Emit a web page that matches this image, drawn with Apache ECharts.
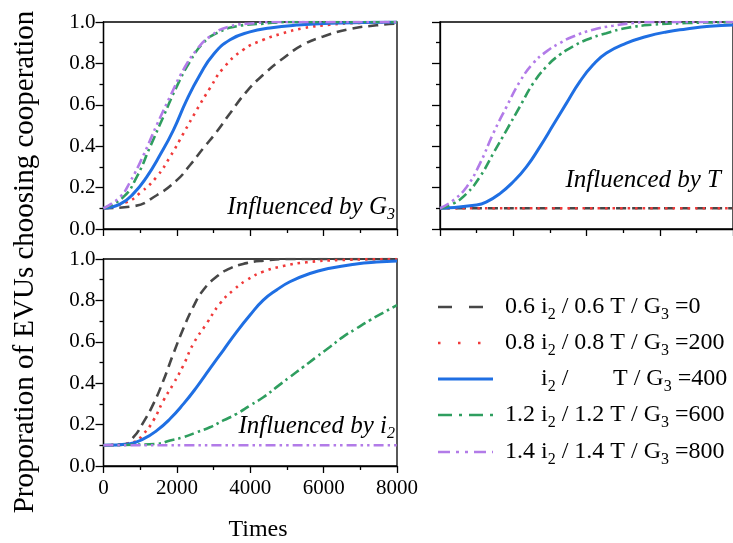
<!DOCTYPE html>
<html>
<head>
<meta charset="utf-8">
<script src="https://cdn.jsdelivr.net/npm/echarts@6/dist/echarts.min.js"></script>
<style>
  html, body { margin: 0; padding: 0; background: #fff; }
  #chart { width: 733px; height: 543px; }
</style>
</head>
<body>
<div id="chart"></div>
<script>
// Evolution of the share of EVUs choosing cooperation over time, [time, proportion]

// Panel 1: influenced by G3
const g3_0   = [[0,0.1],[816,0.11],[1450,0.163],[2000,0.236],[2360,0.309],[2720,0.39],[3085,0.47],[3450,0.559],[3900,0.664],[4355,0.745],[4900,0.825],[5440,0.89],[5990,0.93],[6710,0.966],[7440,0.984],[8000,0.992]];
const g3_200 = [[0,0.1],[635,0.13],[998,0.174],[1450,0.252],[1815,0.349],[2180,0.462],[2540,0.575],[2900,0.68],[3265,0.777],[3810,0.866],[4355,0.914],[4900,0.946],[5440,0.97],[6170,0.987],[6890,0.995],[8000,1.0]];
const g3_400 = [[0,0.1],[450,0.12],[816,0.171],[1180,0.252],[1540,0.357],[1905,0.478],[2270,0.624],[2630,0.745],[2990,0.842],[3450,0.914],[3990,0.952],[4535,0.971],[5260,0.985],[6170,0.994],[8000,1.0]];
const g3_600 = [[0,0.1],[544,0.155],[907,0.252],[1270,0.397],[1633,0.543],[1995,0.688],[2360,0.81],[2720,0.899],[3085,0.946],[3630,0.979],[4355,0.992],[5100,1.0],[8000,1.0]];
const g3_800 = [[0,0.1],[450,0.155],[725,0.228],[1090,0.357],[1450,0.502],[1815,0.64],[2180,0.77],[2540,0.866],[2900,0.93],[3450,0.979],[4175,0.995],[4700,1.0],[8000,1.0]];

// Panel 2: influenced by T
const t_06 = [[0,0.1],[8000,0.1]];
const t_08 = [[0,0.1],[8000,0.1]];
const t_10 = [[0,0.1],[1000,0.116],[1270,0.131],[1636,0.171],[2000,0.228],[2360,0.3],[2727,0.397],[3090,0.502],[3450,0.607],[3818,0.712],[4180,0.793],[4545,0.85],[5090,0.898],[5636,0.93],[6180,0.952],[6727,0.966],[7360,0.979],[8000,0.985]];
const t_12 = [[0,0.1],[363,0.123],[727,0.171],[1090,0.252],[1454,0.365],[1818,0.478],[2180,0.591],[2545,0.704],[2909,0.785],[3270,0.842],[3636,0.882],[4000,0.914],[4545,0.946],[5090,0.971],[5818,0.987],[6727,0.995],[8000,1.0]];
const t_14 = [[0,0.1],[363,0.139],[727,0.203],[1090,0.316],[1454,0.462],[1818,0.591],[2180,0.712],[2545,0.801],[2909,0.858],[3270,0.898],[3636,0.93],[4180,0.963],[4727,0.982],[5270,0.995],[5800,1.0],[8000,1.0]];

// Panel 3: influenced by i2
const i2_06 = [[0,0.1],[544,0.103],[816,0.139],[1090,0.212],[1360,0.3],[1633,0.413],[1905,0.543],[2177,0.664],[2450,0.77],[2720,0.85],[3085,0.915],[3450,0.955],[3900,0.98],[4355,0.992],[5100,1.0],[8000,1.0]];
const i2_08 = [[0,0.1],[816,0.115],[1090,0.155],[1360,0.22],[1633,0.316],[1905,0.397],[2177,0.486],[2450,0.591],[2810,0.688],[3175,0.785],[3540,0.85],[3900,0.898],[4355,0.939],[4900,0.966],[5530,0.984],[6440,0.995],[8000,1.0]];
const i2_10 = [[0,0.1],[725,0.108],[1090,0.131],[1450,0.171],[1815,0.228],[2180,0.3],[2540,0.381],[2900,0.47],[3265,0.559],[3630,0.648],[3990,0.728],[4355,0.801],[4717,0.85],[5080,0.89],[5625,0.93],[6170,0.955],[6890,0.976],[7440,0.985],[8000,0.99]];
const i2_12 = [[0,0.1],[1450,0.107],[1815,0.123],[2180,0.139],[2540,0.163],[2900,0.187],[3265,0.22],[3630,0.252],[3990,0.292],[4355,0.332],[4717,0.381],[5080,0.43],[5442,0.478],[5805,0.527],[6170,0.575],[6530,0.624],[6890,0.664],[7255,0.704],[7620,0.74],[8000,0.777]];
const i2_14 = [[0,0.1],[8000,0.1]];

// Axis ticks
const xMin = 0, xMax = 8000, xStep = 2000;
const yMin = 0, yMax = 1, yStep = 0.2;

const FONT = 'Liberation Serif';

const styles = [
  { color: '#474747', width: 2.6, dash: [10, 6] },
  { color: '#f03a3a', width: 2.6, dash: [2.5, 5] },
  { color: '#1f6fe3', width: 3.0, dash: 'solid' },
  { color: '#2f9e5f', width: 2.6, dash: [10, 4, 2.5, 4] },
  { color: '#b27be8', width: 2.6, dash: [10, 4, 2.5, 4, 2.5, 4] }
];

const panels = [
  [g3_0, g3_200, g3_400, g3_600, g3_800],
  [t_06, t_08, t_10, t_12, t_14],
  [i2_06, i2_08, i2_10, i2_12, i2_14]
];

const grids = [
  { left: 103.5, top: 22, width: 293.5, height: 207 },
  { left: 440, top: 22, width: 293, height: 207 },
  { left: 103.5, top: 259, width: 293.5, height: 207 }
];

function xAxis(i, showLabels) {
  return {
    type: 'value', gridIndex: i, min: xMin, max: xMax, interval: xStep,
    axisLine: { show: true, onZero: false, lineStyle: { color: '#000', width: 1.3 } },
    axisTick: { show: true, length: 7, lineStyle: { color: '#000', width: 1.3 } },
    minorTick: { show: true, splitNumber: 2, length: 4, lineStyle: { color: '#000', width: 1.3 } },
    splitLine: { show: false },
    axisLabel: { show: showLabels, color: '#000', fontFamily: FONT, fontSize: 21, margin: 12,
                 formatter: v => String(v) }
  };
}
function yAxis(i, showLabels) {
  return {
    type: 'value', gridIndex: i, min: yMin, max: yMax, interval: yStep,
    axisLine: { show: true, onZero: false, lineStyle: { color: '#000', width: 1.3 } },
    axisTick: { show: true, length: 8, lineStyle: { color: '#000', width: 1.3 } },
    minorTick: { show: true, splitNumber: 2, length: 4, lineStyle: { color: '#000', width: 1.3 } },
    splitLine: { show: false },
    axisLabel: { show: showLabels, color: '#000', fontFamily: FONT, fontSize: 21, margin: 8,
                 formatter: v => v.toFixed(1) }
  };
}

const series = [];
panels.forEach((curves, p) => {
  curves.forEach((data, k) => {
    const s = styles[k];
    series.push({
      type: 'line', xAxisIndex: p, yAxisIndex: p, data: data,
      smooth: 0.5, showSymbol: false, symbol: 'none',
      clip: true, silent: true, z: 2 + k,
      lineStyle: { color: s.color, width: s.width, type: s.dash, cap: 'butt' }
    });
  });
});

const richNormal = {
  n: { fontFamily: FONT, fontSize: 24, color: '#000' },
  s: { fontFamily: FONT, fontSize: 16, padding: [15, 0, 0, 0], color: '#000' }
};
const richItalic = {
  n: { fontFamily: FONT, fontSize: 25, fontStyle: 'italic', color: '#000' },
  s: { fontFamily: FONT, fontSize: 16, fontStyle: 'italic', padding: [15, 0, 0, 0], color: '#000' }
};

function label(x, y, text) {
  return { type: 'text', x: x, y: y, silent: true,
    style: { text: text, rich: richItalic, align: 'right', verticalAlign: 'middle' } };
}

const legendRows = [
  { y: 307, text: '{n|0.6 i}{s|2}{n| / 0.6 T / G}{s|3}{n| =0}', lineDash: [14, 17] },
  { y: 343, text: '{n|0.8 i}{s|2}{n| / 0.8 T / G}{s|3}{n| =200}', lineDash: [2.5, 17.5] },
  { y: 379, text: null, lineDash: null },
  { y: 415, text: '{n|1.2 i}{s|2}{n| / 1.2 T / G}{s|3}{n| =600}', lineDash: [14, 7, 3, 7] },
  { y: 452, text: '{n|1.4 i}{s|2}{n| / 1.4 T / G}{s|3}{n| =800}', lineDash: [12, 6, 3, 6, 3, 6] }
];

const graphics = [
  label(395, 207, '{n|Influenced by G}{s|3}'),
  label(721, 180, '{n|Influenced by T}'),
  label(395, 426, '{n|Influenced by i}{s|2}')
];
legendRows.forEach((r, k) => {
  graphics.push({
    type: 'line', silent: true,
    shape: { x1: 438, y1: r.y, x2: 493, y2: r.y },
    style: { stroke: styles[k].color, lineWidth: styles[k].width, lineDash: r.lineDash, lineCap: 'butt' }
  });
  if (r.text) {
    graphics.push({ type: 'text', x: 505, y: r.y, silent: true,
      style: { text: r.text, rich: richNormal, align: 'left', verticalAlign: 'middle' } });
  }
});
graphics.push({ type: 'text', x: 541, y: 379, silent: true,
  style: { text: '{n|i}{s|2}{n| /}', rich: richNormal, align: 'left', verticalAlign: 'middle' } });
graphics.push({ type: 'text', x: 613, y: 379, silent: true,
  style: { text: '{n|T / G}{s|3}{n| =400}', rich: richNormal, align: 'left', verticalAlign: 'middle' } });

// axis titles
graphics.push({ type: 'text', x: 258, y: 530, silent: true,
  style: { text: 'Times', fontFamily: FONT, fontSize: 24, fill: '#000', align: 'center', verticalAlign: 'middle' } });
graphics.push({ type: 'text', x: 25, y: 262, rotation: Math.PI / 2, silent: true,
  style: { text: 'Proporation of EVUs choosing cooperation', fontFamily: FONT, fontSize: 29,
           fill: '#000', align: 'center', verticalAlign: 'middle' } });

const chart = echarts.init(document.getElementById('chart'), null, { renderer: 'canvas' });
chart.setOption({
  backgroundColor: '#fff',
  animation: false,
  grid: grids.map(g => Object.assign({ show: true, borderColor: '#000', borderWidth: 1.3, backgroundColor: 'transparent' }, g)),
  xAxis: [xAxis(0, false), xAxis(1, false), xAxis(2, true)],
  yAxis: [yAxis(0, true), yAxis(1, false), yAxis(2, true)],
  series: series,
  graphic: graphics
});
</script>
</body>
</html>
